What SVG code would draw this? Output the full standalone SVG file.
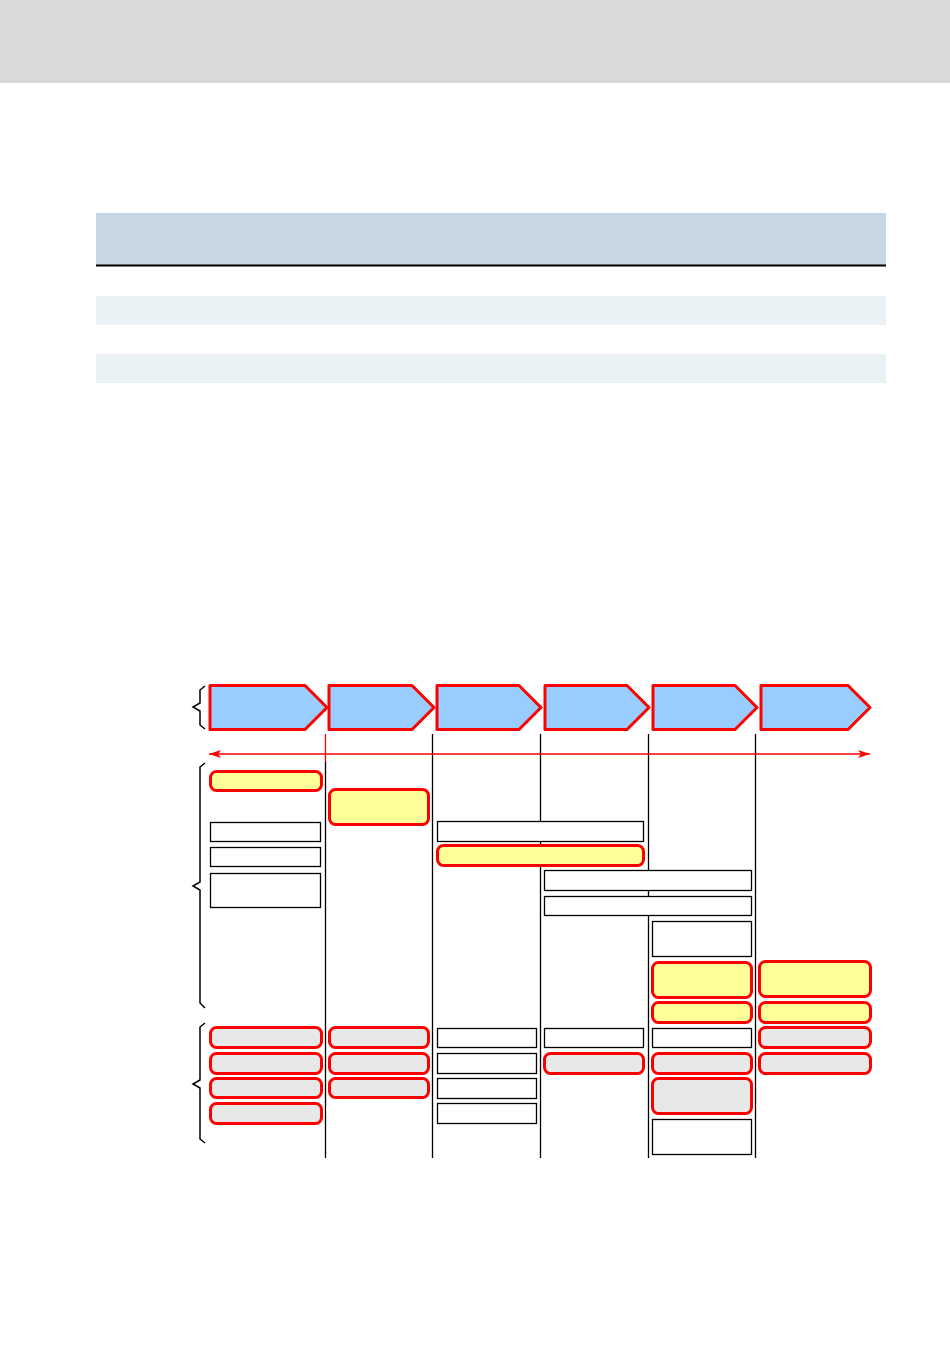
<svg xmlns="http://www.w3.org/2000/svg" width="950" height="1348" viewBox="0 0 950 1348">
<style>
.chev{fill:#99ccff;stroke:#ff0000;stroke-width:3;stroke-linejoin:round}
.ry{fill:#ffff99;stroke:#ff0000;stroke-width:3}
.rg{fill:#e8e8e8;stroke:#ff0000;stroke-width:3}
.wb{fill:#ffffff;stroke:#000000;stroke-width:1.3}
.vl{stroke:#000000;stroke-width:1.3;fill:none}
.br{stroke:#000000;stroke-width:1.5;fill:none}
</style>
<defs>
<marker id="ah" viewBox="0 0 12 8" refX="12" refY="4" markerWidth="12" markerHeight="8" markerUnits="userSpaceOnUse" orient="auto-start-reverse">
<path d="M0,0 L12,4 L0,8 L3,4 Z" fill="#ff0000"/>
</marker>
</defs>
<rect x="0" y="0" width="950" height="83" fill="#d9d9d9"/>
<g id="table">
<rect x="96" y="213" width="790" height="52" fill="#c6d6e2"/>
<line x1="96" y1="265.5" x2="886" y2="265.5" stroke="#000" stroke-width="2"/>
<rect x="96" y="296" width="790" height="29" fill="#eaf1f4"/>
<rect x="96" y="354" width="790" height="29" fill="#eaf1f4"/>
</g>
<g id="connectors">
<line class="vl" x1="325.5" y1="762" x2="325.5" y2="1158"/>
<line x1="325.5" y1="734" x2="325.5" y2="762" stroke="#ff0000" stroke-width="1.3"/>
<line class="vl" x1="432.5" y1="734" x2="432.5" y2="1158"/>
<line class="vl" x1="540.5" y1="734" x2="540.5" y2="1158"/>
<line class="vl" x1="648.5" y1="734" x2="648.5" y2="1158"/>
<line class="vl" x1="755.5" y1="734" x2="755.5" y2="1158"/>
<line x1="209" y1="754" x2="870" y2="754" stroke="#ff0000" stroke-width="1.3" marker-start="url(#ah)" marker-end="url(#ah)"/>
<path class="br" d="M205,686 L200,690 L200,703 L193,707 L200,711 L200,725 L205,729"/>
<path class="br" d="M205,763 L200,767 L200,882 L193,886 L200,890 L200,1003 L205,1008"/>
<path class="br" d="M205,1023 L200,1027 L200,1080 L193,1084 L200,1088 L200,1139 L205,1143"/>
</g>
<g id="chevrons">
<path id="c1" class="chev" d="M210,685.5 L305,685.5 L327,707.5 L305,729.5 L210,729.5 Z"/>
<path id="c2" class="chev" d="M329,685.5 L412,685.5 L434,707.5 L412,729.5 L329,729.5 Z"/>
<path id="c3" class="chev" d="M437,685.5 L519,685.5 L541,707.5 L519,729.5 L437,729.5 Z"/>
<path id="c4" class="chev" d="M545,685.5 L627,685.5 L649,707.5 L627,729.5 L545,729.5 Z"/>
<path id="c5" class="chev" d="M653,685.5 L735,685.5 L757,707.5 L735,729.5 L653,729.5 Z"/>
<path id="c6" class="chev" d="M761,685.5 L848,685.5 L870,707.5 L848,729.5 L761,729.5 Z"/>
</g>
<g id="n1"><rect class="ry" x="210.5" y="771.5" width="111" height="19" rx="6"/></g>
<g id="n2"><rect class="ry" x="329.5" y="789.5" width="99" height="35" rx="6"/></g>
<g id="n3"><rect class="wb" x="210.5" y="822.5" width="110" height="19"/></g>
<g id="n4"><rect class="wb" x="210.5" y="847.5" width="110" height="19"/></g>
<g id="n5"><rect class="wb" x="210.5" y="873.5" width="110" height="34"/></g>
<g id="n6"><rect class="wb" x="437.5" y="821.5" width="206" height="20"/></g>
<g id="n7"><rect class="ry" x="437.5" y="845.5" width="206" height="20" rx="6"/></g>
<g id="n8"><rect class="wb" x="544.5" y="870.5" width="207" height="20"/></g>
<g id="n9"><rect class="wb" x="544.5" y="896.5" width="207" height="19"/></g>
<g id="n10"><rect class="wb" x="652.5" y="921.5" width="99" height="35"/></g>
<g id="n11"><rect class="ry" x="652.5" y="962.5" width="99" height="35" rx="6"/></g>
<g id="n12"><rect class="ry" x="759.5" y="961.5" width="111" height="35" rx="6"/></g>
<g id="n13"><rect class="ry" x="652.5" y="1002.5" width="99" height="20" rx="6"/></g>
<g id="n14"><rect class="ry" x="759.5" y="1002.5" width="111" height="20" rx="6"/></g>
<g id="n15"><rect class="rg" x="210.5" y="1027.5" width="111" height="20" rx="6"/></g>
<g id="n16"><rect class="rg" x="210.5" y="1053.5" width="111" height="20" rx="6"/></g>
<g id="n17"><rect class="rg" x="210.5" y="1078.5" width="111" height="19" rx="6"/></g>
<g id="n18"><rect class="rg" x="210.5" y="1103.5" width="111" height="20" rx="6"/></g>
<g id="n19"><rect class="rg" x="329.5" y="1027.5" width="99" height="20" rx="6"/></g>
<g id="n20"><rect class="rg" x="329.5" y="1053.5" width="99" height="20" rx="6"/></g>
<g id="n21"><rect class="rg" x="329.5" y="1078.5" width="99" height="19" rx="6"/></g>
<g id="n22"><rect class="wb" x="437.5" y="1028.5" width="99" height="19"/></g>
<g id="n23"><rect class="wb" x="437.5" y="1053.5" width="99" height="20"/></g>
<g id="n24"><rect class="wb" x="437.5" y="1078.5" width="99" height="20"/></g>
<g id="n25"><rect class="wb" x="437.5" y="1103.5" width="99" height="20"/></g>
<g id="n26"><rect class="wb" x="544.5" y="1028.5" width="99" height="19"/></g>
<g id="n27"><rect class="rg" x="544.5" y="1053.5" width="99" height="20" rx="6"/></g>
<g id="n28"><rect class="wb" x="652.5" y="1028.5" width="99" height="19"/></g>
<g id="n29"><rect class="rg" x="652.5" y="1053.5" width="99" height="20" rx="6"/></g>
<g id="n30"><rect class="rg" x="652.5" y="1078.5" width="99" height="35" rx="6"/></g>
<g id="n31"><rect class="wb" x="652.5" y="1119.5" width="99" height="35"/></g>
<g id="n32"><rect class="rg" x="759.5" y="1027.5" width="111" height="20" rx="6"/></g>
<g id="n33"><rect class="rg" x="759.5" y="1053.5" width="111" height="20" rx="6"/></g>
</svg>
